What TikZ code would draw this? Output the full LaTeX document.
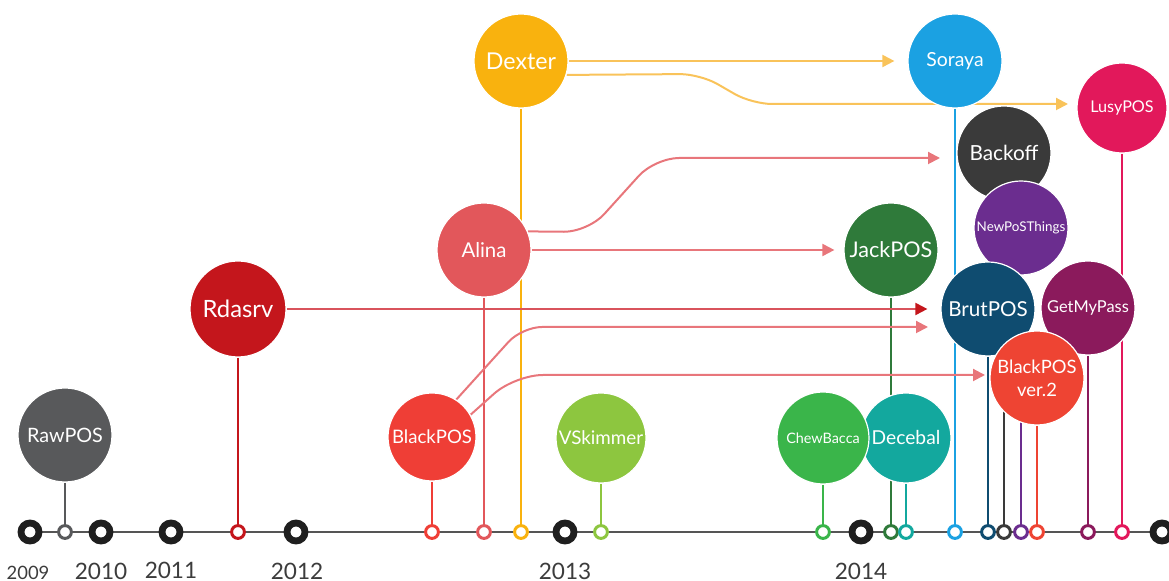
\documentclass[tikz,border=0pt]{standalone}
\usepackage{fontspec}
\setmainfont{Lato}
\usetikzlibrary{arrows.meta}
\pgfdeclarelayer{bg}
\pgfsetlayers{bg,main}
\definecolor{cRaw}{HTML}{58595B}
\definecolor{cRdas}{HTML}{C4161C}
\definecolor{cAlina}{HTML}{E2575B}
\definecolor{cDex}{HTML}{F9B20E}
\definecolor{cDexA}{HTML}{F9C35A}
\definecolor{cBlack}{HTML}{EF3E36}
\definecolor{cVsk}{HTML}{8DC63F}
\definecolor{cChew}{HTML}{3AB54A}
\definecolor{cJack}{HTML}{2F7A3A}
\definecolor{cDec}{HTML}{13A89E}
\definecolor{cSor}{HTML}{1BA1E2}
\definecolor{cLusy}{HTML}{E2185B}
\definecolor{cBack}{HTML}{3A3A3A}
\definecolor{cNew}{HTML}{6B2D8F}
\definecolor{cBrut}{HTML}{0F4C70}
\definecolor{cGet}{HTML}{8B1A5C}
\definecolor{cBv}{HTML}{EE4433}
\definecolor{cArrA}{HTML}{E8767B}
\definecolor{cArrR}{HTML}{D9535C}
\definecolor{cTl}{HTML}{555555}
\definecolor{cYear}{HTML}{3C3C3C}
\begin{document}
\begin{tikzpicture}[x=0.5pt,y=-0.5pt,
  ball/.style={circle, draw=white, line width=0.6pt, text=white, inner sep=0pt,
    minimum size=47pt, font=\fontsize{9}{10}\selectfont},
  yring/.style={circle, draw=black!88, line width=3.4pt, fill=white, minimum size=9pt, inner sep=0pt},
  sring/.style={circle, line width=1.5pt, fill=white, minimum size=6.4pt, inner sep=0pt},
  ylab/.style={text=cYear, font=\fontsize{11.3}{13}\selectfont, inner sep=0pt},
  vline/.style={line width=1.2pt},
  conn/.style={line width=1pt, -{Triangle[length=6pt,width=6pt]}},
]
\useasboundingbox (0,0) rectangle (1169,581);

% circles (later = on top)
\node[ball, fill=cRaw, font=\fontsize{9.9}{11}\selectfont] (raw) at (65,435) {RawPOS};
\node[ball, fill=cRdas, minimum size=48pt, font=\fontsize{11.9}{13}\selectfont] (rdas) at (238,309) {Rdasrv};
\node[ball, fill=cAlina, font=\fontsize{10.2}{11}\selectfont] (alina) at (484,250) {Alina};
\node[ball, fill=cDex, font=\fontsize{11.6}{13}\selectfont] (dexter) at (521,61) {Dexter};
\node[ball, fill=cBlack, minimum size=44pt, font=\fontsize{9.3}{10}\selectfont] (blackpos) at (432,437) {BlackPOS};
\node[ball, fill=cVsk, minimum size=45pt, font=\fontsize{9.4}{10}\selectfont] (vsk) at (601,438) {VSkimmer};
\node[ball, fill=cDec, minimum size=45pt, font=\fontsize{9.6}{11}\selectfont] (dec) at (906,438) {Decebal};
\node[ball, fill=cChew, minimum size=46pt, font=\fontsize{7.2}{9}\selectfont] (chew) at (823,438) {ChewBacca};
\node[ball, fill=cJack, font=\fontsize{10.8}{12}\selectfont] (jack) at (891,250) {JackPOS};
\node[ball, fill=cSor, font=\fontsize{9.7}{11}\selectfont] (soraya) at (955,61) {Soraya};
\node[ball, fill=cLusy, minimum size=45pt, font=\fontsize{8.1}{9}\selectfont] (lusy) at (1122,108) {LusyPOS};
\node[ball, fill=cBack, font=\fontsize{10.4}{12}\selectfont] (back) at (1004,153) {Backoff};
\node[ball, fill=cNew, font=\fontsize{6.7}{8}\selectfont] (newp) at (1021,228) {NewPoSThings};
\node[ball, fill=cBrut, font=\fontsize{10.3}{12}\selectfont] (brut) at (988,309) {BrutPOS};
\node[ball, fill=cGet, font=\fontsize{8.2}{9}\selectfont] (getmy) at (1088,308) {GetMyPass};
\node[ball, fill=cBv, align=center, font=\fontsize{9.2}{11.5}\selectfont] (bv2) at (1037,378) {BlackPOS\\ver.2};

% year rings
\node[yring] (y09) at (30,532) {};
\node[yring] (y10) at (101,532) {};
\node[yring] (y11) at (171,532) {};
\node[yring] (y12) at (296,532) {};
\node[yring] (y13) at (565,532) {};
\node[yring] (y14) at (861,532) {};
\node[yring] (y15) at (1162,532) {};
\coordinate (tlend) at (1169,532);

% event rings
\node[sring, draw=cRaw] (rraw) at (65,532) {};
\node[sring, draw=cRdas] (rrdas) at (238,532) {};
\node[sring, draw=cBlack] (rblack) at (432,532) {};
\node[sring, draw=cAlina] (ralina) at (484,532) {};
\node[sring, draw=cDex] (rdex) at (521,532) {};
\node[sring, draw=cVsk] (rvsk) at (601,532) {};
\node[sring, draw=cChew] (rchew) at (823,532) {};
\node[sring, draw=cJack] (rjack) at (891,532) {};
\node[sring, draw=cDec] (rdec) at (906,532) {};
\node[sring, draw=cSor] (rsor) at (955,532) {};
\node[sring, draw=cBrut] (rbrut) at (988,532) {};
\node[sring, draw=cBack] (rback) at (1004,532) {};
\node[sring, draw=cNew] (rnew) at (1021,532) {};
\node[sring, draw=cBv] (rbv) at (1037,532) {};
\node[sring, draw=cGet] (rget) at (1088,532) {};
\node[sring, draw=cLusy] (rlusy) at (1122,532) {};

% year labels
\node[ylab, font=\fontsize{9.2}{11}\selectfont] (l09) at (28,573) {2009};
\node[ylab] (l10) at (101,571) {2010};
\node[ylab] (l11) at (171,570) {2011};
\node[ylab] (l12) at (297,571) {2012};
\node[ylab] (l13) at (565,571) {2013};
\node[ylab] (l14) at (861,571) {2014};

% free ends of arrows
\coordinate (lusyend) at (1068,104);
\coordinate (backend) at (940,158);
\coordinate (brutend) at (928,327);
\coordinate (bvend) at (985,375);

\begin{pgfonlayer}{bg}
\draw[cTl, line width=1pt] (y09) -- (tlend);
\draw[vline, cRaw] (raw) -- (rraw);
\draw[vline, cRdas] (rdas) -- (rrdas);
\draw[vline, cBlack] (blackpos) -- (rblack);
\draw[vline, cAlina] (alina) -- (ralina);
\draw[vline, cDex] (dexter) -- (rdex);
\draw[vline, cVsk] (vsk) -- (rvsk);
\draw[vline, cChew] (chew) -- (rchew);
\draw[vline, cJack] (jack) -- (rjack);
\draw[vline, cDec] (dec) -- (rdec);
\draw[vline, cSor] (soraya) -- (rsor);
\draw[vline, cBrut] (brut) -- (rbrut);
\draw[vline, cBack] (back) -- (rback);
\draw[vline, cNew] (newp) -- (rnew);
\draw[vline, cBv] (bv2) -- (rbv);
\draw[vline, cGet] (getmy) -- (rget);
\draw[vline, cLusy] (lusy) -- (rlusy);

% arrows
\draw[conn, cDexA, shorten >=6.5pt] (dexter) -- (soraya);
\draw[conn, cDexA, rounded corners=10pt] (dexter.-17) -- (700,74) -- (752,104) -- (lusyend);
\draw[conn, cArrA, rounded corners=12pt] (alina.23) -- (588,232) -- (655,158) -- (backend);
\draw[conn, cArrA, shorten >=4.5pt] (alina) -- (jack);
\draw[line width=1pt, cArrR, -{Triangle[length=6pt,width=6pt,color=cRdas]}, shorten >=6.5pt] (rdas) -- (brut);
\draw[conn, cArrA, rounded corners=10pt] (blackpos.57) -- (522,327) -- (brutend);
\draw[conn, cArrA, rounded corners=14pt] (blackpos.30) -- (515,375) -- (bvend);
\end{pgfonlayer}
\end{tikzpicture}
\end{document}
